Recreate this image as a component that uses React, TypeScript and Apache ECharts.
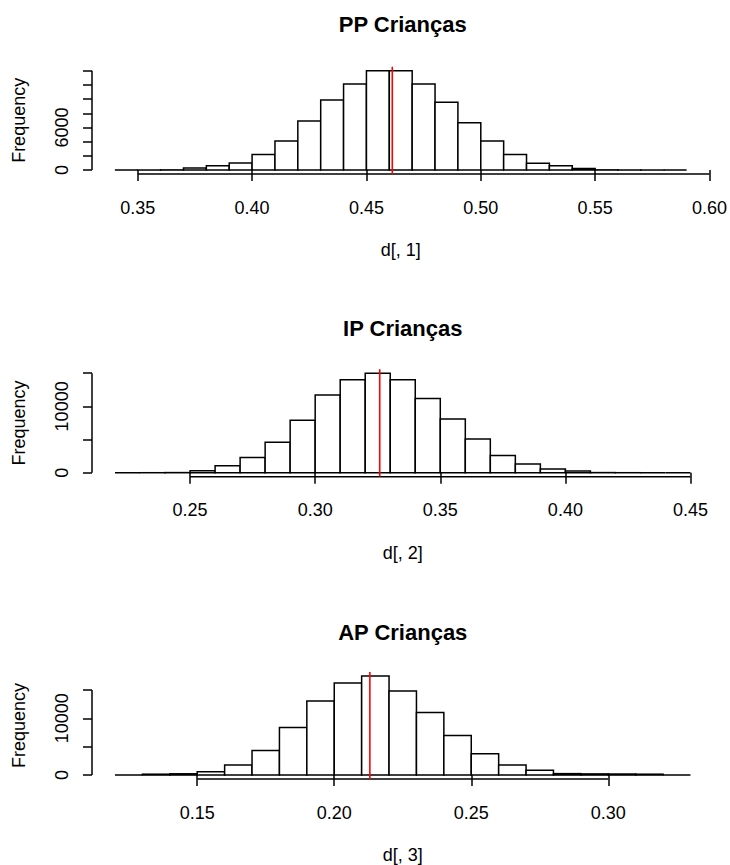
import React, { useEffect, useRef } from "react";
import * as echarts from "echarts";

// ---- data ----
const titles = ["PP Crianças", "IP Crianças", "AP Crianças"];
const xNames = ["d[, 1]", "d[, 2]", "d[, 3]"];
const yName = "Frequency";
const binWidth = 0.01;

// PP: bins of width 0.01 starting at 0.34
const ppFirstBreak = 0.34;
const ppCounts = [0, 2, 20, 280, 590, 990, 2200, 4090, 6910, 9870, 12120, 14000, 13990, 12120, 9540, 6670, 4090, 2200, 950, 600, 230, 25, 3, 1, 0];
const ppXTicks = [0.35, 0.4, 0.45, 0.5, 0.55, 0.6];
const ppYTicks = [0, 2000, 4000, 6000, 8000, 10000, 12000, 14000];
const ppYLabels = [0, 6000];

// IP: bins starting at 0.22
const ipFirstBreak = 0.22;
const ipCounts = [0, 1, 20, 300, 1050, 2300, 4600, 7900, 11700, 14000, 15000, 14000, 11200, 8100, 5100, 2580, 1320, 570, 250, 20, 2, 0, 0];
const ipXTicks = [0.25, 0.3, 0.35, 0.4, 0.45];
const ipYTicks = [0, 5000, 10000, 15000];
const ipYLabels = [0, 10000];

// AP: bins starting at 0.12
const apFirstBreak = 0.12;
const apCounts = [0, 150, 220, 580, 1780, 4340, 8390, 13040, 16230, 17440, 14800, 11000, 6950, 3760, 1750, 830, 250, 200, 180, 150, 0];
const apXTicks = [0.15, 0.2, 0.25, 0.3];
const apYTicks = [0, 5000, 10000, 15000];
const apYLabels = [0, 10000];

// vertical red lines (means)
const means = [0.4613, 0.3258, 0.213];

// ---- layout ----
const FONT = "'Liberation Sans', Arial, Helvetica, sans-serif";
const GRID_LEFT = 92;
const GRID_RIGHT = 16.5;
const gridTops = [66.7, 369.2, 672.1];
const gridHeights = [107.3, 107.5, 109.3];
const titleMidY = [24.5, 328.3, 632.8];
const LW = 1.5;
const RED_LW = 1.6;

const panels = [
  { first: ppFirstBreak, counts: ppCounts, xTicks: ppXTicks, yTicks: ppYTicks, yLabels: ppYLabels },
  { first: ipFirstBreak, counts: ipCounts, xTicks: ipXTicks, yTicks: ipYTicks, yLabels: ipYLabels },
  { first: apFirstBreak, counts: apCounts, xTicks: apXTicks, yTicks: apYTicks, yLabels: apYLabels },
];

function buildOption() {
  const grid: any[] = [];
  const xAxis: any[] = [];
  const yAxis: any[] = [];
  const series: any[] = [];
  const title: any[] = [];

  panels.forEach((p, i) => {
    const bins = p.counts.map((c, k) => {
      const x0 = +(p.first + k * binWidth).toFixed(4);
      const x1 = +(p.first + (k + 1) * binWidth).toFixed(4);
      return [x0, x1, c];
    });
    const lo = bins[0][0];
    const hi = bins[bins.length - 1][1];
    const xMin = lo - 0.04 * (hi - lo);
    const xMax = hi + 0.04 * (hi - lo);
    const maxC = Math.max(...p.counts);
    const yMin = -0.04 * maxC;
    const yMax = 1.04 * maxC;

    grid.push({ left: GRID_LEFT, right: GRID_RIGHT, top: gridTops[i], height: gridHeights[i], containLabel: false });

    title.push({
      text: titles[i],
      left: (GRID_LEFT + (730 - GRID_RIGHT)) / 2,
      top: titleMidY[i] - 11,
      textAlign: "center",
      padding: 0,
      textStyle: { fontFamily: FONT, fontSize: 22, fontWeight: "bold", color: "#000" },
    });

    xAxis.push({
      type: "value",
      gridIndex: i,
      min: xMin,
      max: xMax,
      name: xNames[i],
      nameLocation: "middle",
      nameGap: 67,
      nameTextStyle: { fontFamily: FONT, fontSize: 18, color: "#000" },
      axisLine: { show: false },
      splitLine: { show: false },
      axisTick: { show: true, customValues: p.xTicks, length: 11, lineStyle: { color: "#000", width: LW } },
      axisLabel: {
        customValues: p.xTicks,
        formatter: (v: number) => v.toFixed(2),
        margin: 24.5,
        color: "#000",
        fontFamily: FONT,
        fontSize: 18,
      },
    });

    yAxis.push({
      type: "value",
      gridIndex: i,
      min: yMin,
      max: yMax,
      name: yName,
      nameLocation: "middle",
      nameGap: 64,
      nameTextStyle: { fontFamily: FONT, fontSize: 18, color: "#000" },
      axisLine: { show: false },
      splitLine: { show: false },
      axisTick: { show: true, customValues: p.yTicks, length: 9, lineStyle: { color: "#000", width: LW } },
      axisLabel: {
        customValues: p.yLabels,
        formatter: (v: number) => String(v),
        rotate: 90,
        margin: 21,
        color: "#000",
        fontFamily: FONT,
        fontSize: 18,
      },
    });

    // histogram bars
    series.push({
      type: "custom",
      xAxisIndex: i,
      yAxisIndex: i,
      silent: true,
      data: bins,
      encode: { x: [0, 1], y: 2 },
      renderItem: (params: any, api: any) => {
        const a = api.coord([api.value(0), 0]);
        const b = api.coord([api.value(1), api.value(2)]);
        return {
          type: "rect",
          shape: { x: a[0], y: b[1], width: b[0] - a[0], height: a[1] - b[1] },
          style: { fill: "#fff", stroke: "#000", lineWidth: LW },
        };
      },
      z: 2,
    });

    // R-style axis lines (spanning only the tick range)
    series.push({
      type: "line",
      xAxisIndex: i,
      yAxisIndex: i,
      silent: true,
      clip: false,
      symbol: "none",
      data: [[xMin, p.yTicks[0]], [xMin, p.yTicks[p.yTicks.length - 1]]],
      lineStyle: { color: "#000", width: LW },
      z: 3,
    });
    series.push({
      type: "line",
      xAxisIndex: i,
      yAxisIndex: i,
      silent: true,
      clip: false,
      symbol: "none",
      data: [[p.xTicks[0], yMin], [p.xTicks[p.xTicks.length - 1], yMin]],
      lineStyle: { color: "#000", width: LW },
      z: 3,
    });

    // red vertical line at the mean
    series.push({
      type: "line",
      xAxisIndex: i,
      yAxisIndex: i,
      silent: true,
      clip: false,
      symbol: "none",
      data: [[means[i], yMin], [means[i], yMax]],
      lineStyle: { color: "#ff0000", width: RED_LW },
      z: 4,
    });
  });

  return {
    animation: false,
    backgroundColor: "#fff",
    title,
    grid,
    xAxis,
    yAxis,
    series,
  };
}

export default function App() {
  const ref = useRef<HTMLDivElement>(null);
  useEffect(() => {
    if (!ref.current) return;
    const chart = echarts.init(ref.current, undefined, { renderer: "svg" });
    chart.setOption(buildOption() as any);
    return () => chart.dispose();
  }, []);
  return (
    <div
      ref={ref}
      style={{ position: "absolute", left: 0, top: 0, width: 730, height: 865, background: "#fff" }}
    />
  );
}
